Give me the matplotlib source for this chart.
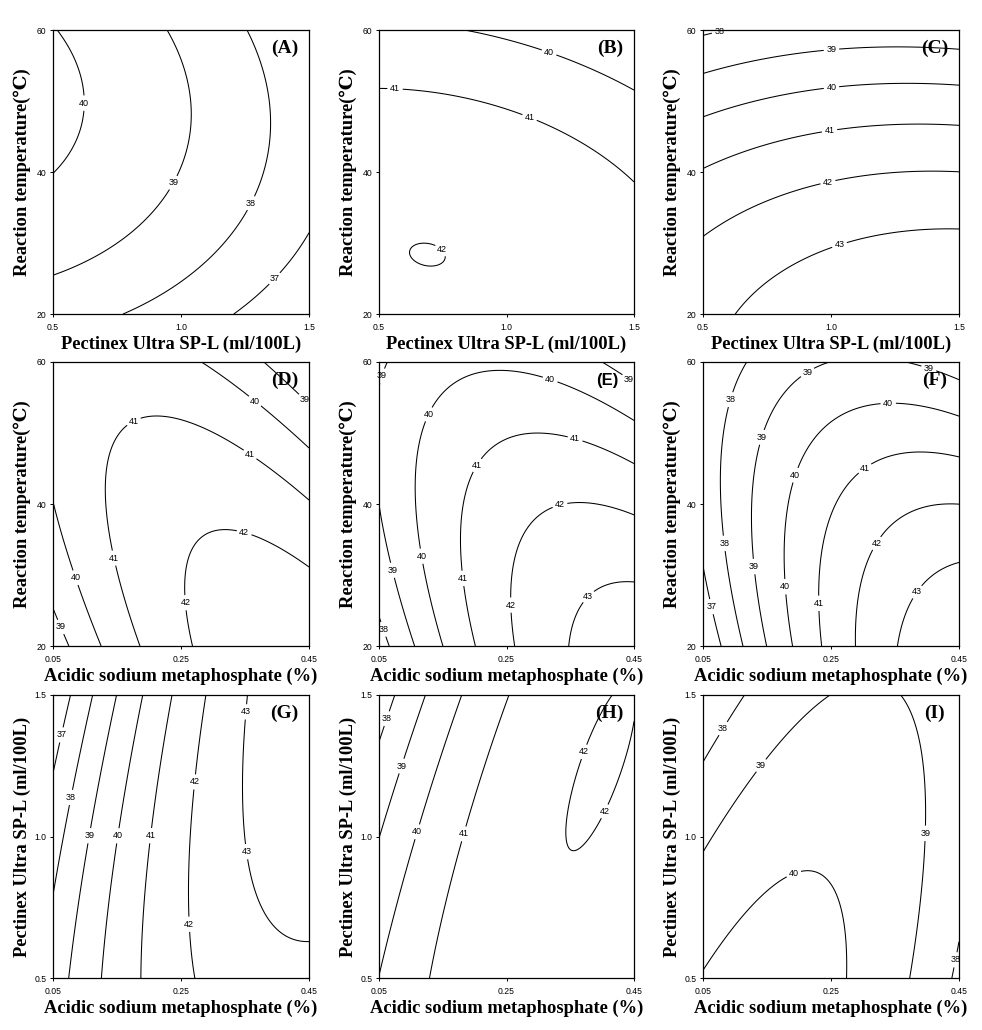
import numpy as np
import matplotlib
matplotlib.use("Agg")
import matplotlib.pyplot as plt

# ---------------- data ----------------
pectinex_range = (0.5, 1.5)      # ml/100L
temp_range = (20, 60)            # deg C
asm_range = (0.05, 0.45)         # %

pectinex_ticks = [0.5, 1.0, 1.5]
pectinex_ticklabels = ["0.5", "1.0", "1.5"]
temp_ticks = [20, 40, 60]
temp_ticklabels = ["20", "40", "60"]
asm_ticks = [0.05, 0.25, 0.45]
asm_ticklabels = ["0.05", "0.25", "0.45"]

lab_pectinex = "Pectinex Ultra SP-L (ml/100L)"
lab_temp = "Reaction temperature(\u2103)"
lab_asm = "Acidic sodium metaphosphate (%)"

# points read on each contour line: (level, x, y)
pts_A = [(40, .5, 39.83), (40, .565, 42.65), (40, .623, 49.68), (40, .597, 55.78), (40, .513, 60),
         (39, .942, 60), (39, 1.032, 47.81), (39, .994, 40.77), (39, .877, 33.74), (39, .682, 28.58), (39, .5, 25.53),
         (38, 1.26, 60), (38, 1.351, 48.74), (38, 1.318, 39.83), (38, 1.253, 34.21), (38, 1.071, 25.77), (38, .773, 20),
         (37, 1.201, 20), (37, 1.357, 25.06), (37, 1.5, 31.16)]
pts_B = [(40, .837, 60), (40, 1.158, 56.95), (40, 1.354, 54.14), (40, 1.5, 51.56),
         (41, .5, 51.79), (41, .765, 50.85), (41, 1.092, 47.81), (41, 1.354, 42.65), (41, 1.5, 38.66),
         (42, .628, 29.05), (42, .687, 30.13), (42, .726, 29.14), (42, .687, 27.74), (42.01, .677, 28.95)]
pts_C = [(38, .5, 59.15), (38, .595, 60),
         (39, .5, 53.81), (39, .702, 56.01), (39, .989, 57.18), (39, 1.289, 57.42), (39, 1.5, 57.42),
         (40, .5, 47.71), (40, .702, 50.38), (40, .989, 51.79), (40, 1.289, 52.26), (40, 1.5, 52.35),
         (41, .5, 39.93), (41, .702, 43.35), (41, .989, 45.70), (41, 1.289, 46.49), (41, 1.5, 46.73),
         (42, .5, 31.16), (42, .702, 35.61), (42, .989, 38.66), (42, 1.289, 39.93), (42, 1.5, 40.07),
         (43, .628, 20), (43, .767, 24.83), (43, .989, 29.28), (43, 1.289, 31.63), (43, 1.5, 31.96)]
pts_D = [(40, .05, 40.09), (40, .0682, 34.93), (40, .0854, 29.62), (40, .1229, 20),
         (39, .05, 25.16), (39, .063, 22.72), (39, .076, 20),
         (41, .188, 20), (41, .1438, 32.35), (41, .1292, 41.97), (41, .1385, 48.08), (41, .1698, 51.83),
         (41, .2063, 52.40), (41, .2792, 49.95), (41, .3583, 47.04), (41, .45, 40.56),
         (40, .274, 60), (40, .3635, 54.27), (40, .45, 47.84),
         (39, .3886, 60), (39, .45, 53.94),
         (42, .2677, 20), (42, .2558, 26.48), (42, .2583, 32.58), (42, .2792, 35.40), (42, .3208, 36.71),
         (42, .3521, 36.10), (42, .45, 31.03)]
pts_E = [(38, .05, 24.13), (38, .0646, 20),
         (39, .05, 40.09), (39, .0725, 30.70), (39, .1065, 20), (39, .05, 56.06), (39, .062, 60),
         (39, .3968, 60), (39, .4255, 58.73), (39, .45, 57.23),
         (40, .1504, 20), (40, .119, 32.11), (40, .108, 41.97), (40, .1117, 49.02), (40, .13, 52.54),
         (40, .1666, 57.47), (40, .2189, 58.73), (40, .313, 57.47), (40, .3915, 54.65), (40, .45, 51.83),
         (41, .2006, 20), (41, .1797, 34.93), (41, .1823, 41.97), (41, .2032, 45.49), (41, .2503, 49.02),
         (41, .2869, 49.63), (41, .3549, 49.16), (41, .45, 45.73),
         (42, .2634, 20), (42, .2582, 25.77), (42, .2597, 33.99), (42, .2869, 37.75), (42, .334, 39.77),
         (42, .3706, 40.09), (42, .45, 38.45),
         (43, .3481, 20), (43, .3601, 24.60), (43, .3784, 26.95), (43, .4177, 28.83), (43, .45, 28.97)]
pts_F = [(37, .05, 30.70), (37, .063, 25.54), (37, .0787, 20),
         (38, .1152, 60), (38, .0917, 54.74), (38, .0839, 49.02), (38, .0813, 39.63), (38, .0839, 34.46),
         (38, .0943, 26.48), (38, .1126, 20),
         (39, .1491, 20), (39, .1282, 31.17), (39, .1256, 39.63), (39, .1387, 49.48), (39, .1726, 54.65),
         (39, .2132, 58.55), (39, .2404, 60), (39, .3707, 60), (39, .402, 58.87), (39, .45, 57.47),
         (40, .1908, 20), (40, .1804, 28.36), (40, .1856, 36.81), (40, .1934, 44.09), (40, .2247, 49.48),
         (40, .2769, 53.01), (40, .3394, 54.18), (40, .3916, 53.94), (40, .45, 52.30),
         (41, .2351, 20), (41, .2299, 26.01), (41, .2351, 34.93), (41, .2664, 41.03), (41, .3029, 45.02),
         (41, .3499, 46.90), (41, .3916, 47.14), (41, .45, 46.67),
         (42, .2899, 20), (42, .2899, 27.42), (42, .3003, 31.17), (42, .3212, 34.46), (42, .3655, 38.69),
         (42, .4072, 40.09), (42, .45, 40.09),
         (43, .3551, 20), (43, .3655, 23.66), (43, .3864, 27.65), (43, .4177, 30.24), (43, .45, 32.02)]
pts_G = [(37, .05, 1.2286), (37, .0648, 1.3578), (37, .077, 1.5),
         (38, .05, .782), (38, .0648, .9994), (38, .078, 1.138), (38, .1124, 1.5),
         (39, .0754, .5), (39, .1061, 1.003), (39, .1484, 1.5),
         (40, .1257, .5), (40, .1495, 1.003), (40, .1907, 1.5),
         (41, .1865, .5), (41, .2024, 1.003), (41, .2367, 1.5),
         (42, .2701, .5), (42, .2632, .690), (42, .2685, .964), (42, .2711, 1.193), (42, .2881, 1.5),
         (43, .3531, 1.5), (43, .3531, .9465), (43, .3663, .788), (43, .3875, .7056), (43, .4192, .6469),
         (43, .45, .6257)]
pts_H = [(38, .05, 1.3343), (38, .0621, 1.4166), (38, .0753, 1.5),
         (39, .05, .9994), (39, .0859, 1.2485), (39, .1228, 1.5),
         (40, .05, .5), (40, .1096, 1.017), (40, .1782, 1.5),
         (41, .1281, .5), (41, .1835, 1.0088), (41, .2547, 1.5),
         (42, .4183, 1.5), (42, .3761, 1.2955), (42, .3482, 1.0582), (42, .3577, .9642), (42, .384, .9994),
         (42, .4051, 1.0875), (42, .45, 1.352)]
pts_I = [(38, .05, 1.2638), (38, .0816, 1.3813), (38, .1132, 1.5),
         (39, .05, .9407), (39, .1421, 1.2485), (39, .2053, 1.4224), (39, .2526, 1.5),
         (39, .3579, 1.5), (39, .3842, 1.3872), (39, .3947, 1.1992), (39, .3974, 1.0112), (39, .3895, .7291),
         (39, .3737, .5),
         (40, .05, .5294), (40, .1316, .7761), (40, .1921, .8666), (40, .2211, .8737), (40, .2579, .7996),
         (40, .2726, .6351), (40, .2737, .5),
         (38, .4368, .5), (38, .4447, .5646), (38, .45, .6175)]

levels_A = [37, 38, 39, 40]
levels_B = [40, 41, 42]
levels_C = [38, 39, 40, 41, 42, 43]
levels_D = [39, 40, 41, 42]
levels_E = [38, 39, 40, 41, 42, 43]
levels_F = [37, 38, 39, 40, 41, 42, 43]
levels_G = [37, 38, 39, 40, 41, 42, 43]
levels_H = [38, 39, 40, 41, 42]
levels_I = [38, 39, 40]

# contour label anchor spots (x, y)
lab_A = [(.623, 49.7), (.968, 38.52), (1.273, 35.61), (1.364, 25.06)]
lab_B = [(1.168, 56.95), (.563, 51.79), (1.092, 47.81), (.726, 28.35)]
lab_C = [(.565, 59.67), (1.002, 57.09), (1.002, 51.79), (.995, 45.70), (.989, 38.43), (1.035, 29.52)]
lab_D = [(.3636, 54.27), (.442, 54.6), (.175, 51.83), (.3584, 47.04), (.1438, 32.35), (.0854, 29.62),
         (.063, 22.72), (.3496, 36.24), (.2574, 26.10)]
lab_E = [(.0552, 58.03), (.442, 57.6), (.13, 52.54), (.3183, 57.47), (.3576, 49.16), (.2032, 45.49),
         (.334, 39.77), (.119, 32.68), (.0725, 30.70), (.1823, 29.53), (.2582, 25.77), (.3784, 26.95),
         (.0568, 22.35)]
lab_F = [(.0917, 54.74), (.2132, 58.55), (.402, 58.87), (.1387, 49.48), (.3394, 54.18), (.1934, 44.09),
         (.3029, 45.02), (.3212, 34.46), (.0839, 34.46), (.1282, 31.17), (.1804, 28.36), (.3838, 27.65),
         (.2299, 26.01), (.063, 25.54)]
lab_G = [(.0648, 1.358), (.3531, 1.44), (.2711, 1.193), (.078, 1.138), (.1061, 1.003), (.1495, 1.003),
         (.2024, 1.003), (.3531, .9465), (.2632, .690)]
lab_H = [(.0621, 1.4166), (.0859, 1.2485), (.3761, 1.2955), (.4051, 1.0875), (.1096, 1.017), (.1835, 1.0088)]
lab_I = [(.0816, 1.3813), (.1421, 1.2485), (.3974, 1.0112), (.1921, .8666), (.4437, .5646)]

# ---------------- layout ----------------
W, H = 982, 1030
fig = plt.figure(figsize=(W / 100, H / 100), dpi=100)

serif = ["Liberation Serif", "DejaVu Serif", "DejaVu Sans"]
sans = ["Liberation Sans", "DejaVu Sans"]

col_px = {1: (53, 256), 2: (379, 255), 3: (703, 256)}
row_px = {1: (30, 284), 2: (362, 284), 3: (695, 283)}


def fit_surface(pts, xr, yr):
    p = np.array(pts, float)
    z, x, y = p[:, 0], p[:, 1], p[:, 2]
    u = (x - (xr[0] + xr[1]) / 2) / ((xr[1] - xr[0]) / 2)
    v = (y - (yr[0] + yr[1]) / 2) / ((yr[1] - yr[0]) / 2)
    M = np.column_stack([np.ones_like(u), u, v, u * u, v * v, u * v])
    coef, *_ = np.linalg.lstsq(M, z, rcond=None)
    return coef


def surface(coef, xr, yr, n=300):
    xs = np.linspace(xr[0], xr[1], n)
    ys = np.linspace(yr[0], yr[1], n)
    X, Y = np.meshgrid(xs, ys)
    U = (X - (xr[0] + xr[1]) / 2) / ((xr[1] - xr[0]) / 2)
    V = (Y - (yr[0] + yr[1]) / 2) / ((yr[1] - yr[0]) / 2)
    b0, b1, b2, b11, b22, b12 = coef
    Z = b0 + b1 * U + b2 * V + b11 * U * U + b22 * V * V + b12 * U * V
    return X, Y, Z


panels = [
    ("(A)", 1, 1, pts_A, levels_A, lab_A, pectinex_range, temp_range, "pt"),
    ("(B)", 1, 2, pts_B, levels_B, lab_B, pectinex_range, temp_range, "pt"),
    ("(C)", 1, 3, pts_C, levels_C, lab_C, pectinex_range, temp_range, "pt"),
    ("(D)", 2, 1, pts_D, levels_D, lab_D, asm_range, temp_range, "at"),
    ("(E)", 2, 2, pts_E, levels_E, lab_E, asm_range, temp_range, "at"),
    ("(F)", 2, 3, pts_F, levels_F, lab_F, asm_range, temp_range, "at"),
    ("(G)", 3, 1, pts_G, levels_G, lab_G, asm_range, pectinex_range, "ap"),
    ("(H)", 3, 2, pts_H, levels_H, lab_H, asm_range, pectinex_range, "ap"),
    ("(I)", 3, 3, pts_I, levels_I, lab_I, asm_range, pectinex_range, "ap"),
]

for name, r, c, pts, levels, labs, xr, yr, kind in panels:
    x0, w = col_px[c]
    y0, h = row_px[r]
    ax = fig.add_axes([x0 / W, 1 - (y0 + h) / H, w / W, h / H])
    coef = fit_surface(pts, xr, yr)
    X, Y, Z = surface(coef, xr, yr)
    cs = ax.contour(X, Y, Z, levels=levels, colors="black", linewidths=0.75)
    ax.clabel(cs, levels=levels, manual=labs, inline=True, fontsize=6.5, fmt="%d", inline_spacing=2)
    for t in cs.labelTexts:
        t.set_family(sans)
        t.set_rotation(0)
        t.set_clip_on(False)
    ax.set_xlim(*xr)
    ax.set_ylim(*yr)
    if kind == "pt":
        ax.set_xticks(pectinex_ticks, pectinex_ticklabels)
        ax.set_yticks(temp_ticks, temp_ticklabels)
        xl, yl = lab_pectinex, lab_temp
    elif kind == "at":
        ax.set_xticks(asm_ticks, asm_ticklabels)
        ax.set_yticks(temp_ticks, temp_ticklabels)
        xl, yl = lab_asm, lab_temp
    else:
        ax.set_xticks(asm_ticks, asm_ticklabels)
        ax.set_yticks(pectinex_ticks, pectinex_ticklabels)
        xl, yl = lab_asm, lab_pectinex
    ax.tick_params(direction="out", length=2.2, width=0.7, labelsize=6.2, colors="black")
    ax.tick_params(axis="x", pad=4.5)
    ax.tick_params(axis="y", pad=2.5)
    for t in ax.get_xticklabels() + ax.get_yticklabels():
        t.set_family(sans)
    for s in ax.spines.values():
        s.set_linewidth(0.9)
    ax.text(0.5, -30 / h, xl, transform=ax.transAxes, ha="center", va="center",
            fontsize=13.3, fontweight="bold", family=serif)
    ax.text(-31 / w, 0.5, yl, transform=ax.transAxes, ha="center", va="center", rotation=90,
            fontsize=13.3, fontweight="bold", family=serif)
    if name == "(E)":
        ax.text(0.894, 0.935, name, transform=ax.transAxes, ha="center", va="center",
                fontsize=12, fontweight="bold", family=sans)
    else:
        ax.text(0.905, 0.935, name, transform=ax.transAxes, ha="center", va="center",
                fontsize=14, fontweight="bold", family=serif)

fig.savefig("out.png", dpi=100)
